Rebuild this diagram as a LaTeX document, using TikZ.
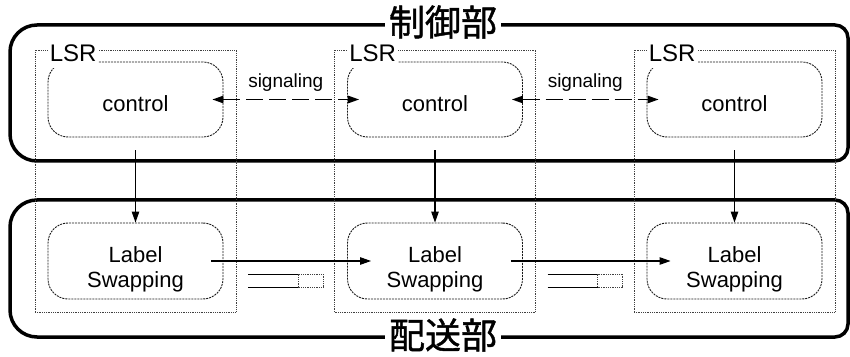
\documentclass[tikz,border=0pt]{standalone}
\usepackage{fontspec}
\setmainfont{Liberation Sans}
\newfontfamily\cjk[FakeBold=1.2]{Noto Sans CJK JP}
\usetikzlibrary{arrows.meta}
\begin{document}
\begin{tikzpicture}[x=1pt,y=1pt,
  bigbox/.style={draw=black, line width=3.5pt},
  lsrbox/.style={draw=black!75, densely dotted, line width=0.8pt, minimum width=201pt, minimum height=262pt, inner sep=0pt},
  fbox/.style={draw=black!90, dash pattern=on 2pt off 1pt, line width=0.9pt, rounded corners=20pt, minimum width=175pt, inner sep=0pt},
  ctrlbox/.style={fbox, minimum height=75pt},
  lsbox/.style={fbox, minimum height=76pt},
  ctrltxt/.style={font=\fontsize{22pt}{25pt}\selectfont, inner sep=0pt},
  lstxt/.style={font=\fontsize{22pt}{25pt}\selectfont, align=center, inner sep=0pt},
  lsrlbl/.style={font=\fontsize{24pt}{28pt}\selectfont, fill=white, inner xsep=2pt, inner ysep=6pt, anchor=base west},
  sigtxt/.style={font=\fontsize{19pt}{22pt}\selectfont, anchor=base, yshift=12pt, inner sep=0pt},
  arr/.style={line width=1.1pt, -{Triangle[length=11pt,width=7.5pt]}},
  sigarr/.style={line width=1.1pt, dash pattern=on 17pt off 6pt, {Triangle[length=11pt,width=7.5pt]}-{Triangle[length=11pt,width=7.5pt]}},
  qline/.style={line width=0.9pt},
  qbox/.style={draw=black!75, densely dotted, line width=0.8pt},
  ttl/.style={font=\cjk\fontsize{36pt}{40pt}\selectfont, fill=white, inner xsep=4pt, inner ysep=0pt}
]
\useasboundingbox (0,0) rectangle (850,356);

% big section boxes
\draw[bigbox] (37,331) -- (835,331) arc[start angle=90,end angle=0,radius=13]
  -- (848,208) arc[start angle=0,end angle=-90,radius=13]
  -- (37,195) arc[start angle=270,end angle=180,radius=27]
  -- (10,304) arc[start angle=180,end angle=90,radius=27] -- cycle;
\draw[bigbox] (37,156) -- (835,156) arc[start angle=90,end angle=0,radius=13]
  -- (848,32) arc[start angle=0,end angle=-90,radius=13]
  -- (37,19) arc[start angle=270,end angle=180,radius=27]
  -- (10,129) arc[start angle=180,end angle=90,radius=27] -- cycle;

% LSR boxes
\node[lsrbox] (s1) at (135.5,175) {};
\node[lsrbox] (s2) at (435,175) {};
\node[lsrbox] (s3) at (734.5,175) {};

% control boxes
\node[ctrlbox, label={[ctrltxt, yshift=-4.5pt]center:control}] (c1) at (135.5,256.5) {};
\node[ctrlbox, label={[ctrltxt, yshift=-4.5pt]center:control}] (c2) at (435,256.5) {};
\node[ctrlbox, label={[ctrltxt, yshift=-4.5pt]center:control}] (c3) at (734.5,256.5) {};

% label swapping boxes
\node[lsbox, label={[lstxt, yshift=-8pt]center:{Label\\Swapping}}] (l1) at (135.5,95) {};
\node[lsbox, label={[lstxt, yshift=-8pt]center:{Label\\Swapping}}] (l2) at (435,95) {};
\node[lsbox, label={[lstxt, yshift=-8pt]center:{Label\\Swapping}}] (l3) at (734.5,95) {};

% LSR labels
\node[lsrlbl] (n1) at ([xshift=13pt,yshift=-12pt]s1.north west) {LSR};
\node[lsrlbl] (n2) at ([xshift=13pt,yshift=-12pt]s2.north west) {LSR};
\node[lsrlbl] (n3) at ([xshift=13pt,yshift=-12pt]s3.north west) {LSR};

% signaling
\draw[sigarr] ([xshift=-11pt]c1.east) -- node[sigtxt] (g1) {signaling} ([xshift=12pt]c2.west);
\draw[sigarr] ([xshift=-11pt]c2.east) -- node[sigtxt] (g2) {signaling} ([xshift=12pt]c3.west);

% control -> label swapping
\draw[arr] ([yshift=-13pt]c1.south) -- (l1.north);
\draw[arr] ([yshift=-13pt]c2.south) -- (l2.north);
\draw[arr] ([yshift=-13pt]c3.south) -- (l3.north);

% forwarding
\draw[arr] ([xshift=-12pt]l1.east) -- ([xshift=24pt]l2.west);
\draw[arr] ([xshift=-12pt]l2.east) -- ([xshift=24pt]l3.west);

% queues
\foreach \dx in {0,299.5}{
  \begin{scope}[xshift=\dx pt]
    \draw[qline] (248,82) -- (298,82);
    \draw[qline] (248,69) -- (298,69);
    \draw[qbox] (298,69) rectangle (323,82);
  \end{scope}
}

% titles
\node[ttl] (t1) at (443,334) {制御部};
\node[ttl] (t2) at (443,21) {配送部};
\end{tikzpicture}
\end{document}
